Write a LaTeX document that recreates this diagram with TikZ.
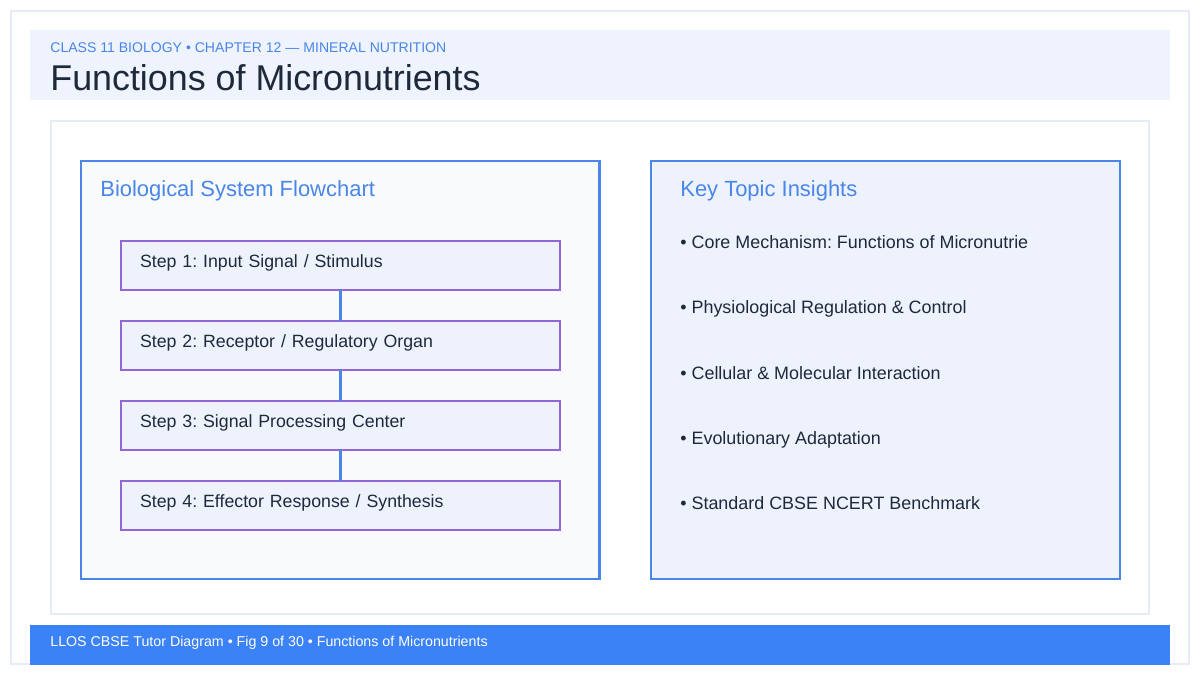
\documentclass[tikz,border=0pt]{standalone}
\usepackage{fontspec}
\setmainfont{Liberation Sans}
\usetikzlibrary{positioning}
\frenchspacing

\definecolor{accent}{HTML}{4A86E8}
\definecolor{footbg}{HTML}{3B82F6}
\definecolor{ink}{HTML}{1E293B}
\definecolor{stepline}{HTML}{9066D8}
\definecolor{stepbg}{HTML}{EEF2FD}
\definecolor{headbg}{HTML}{EEF3FD}
\definecolor{leftbg}{HTML}{F8FAFC}
\definecolor{frameline}{HTML}{E6ECF7}

\tikzset{
  stepbox/.style={rectangle, draw=stepline, line width=1.1pt, fill=stepbg, outer sep=0pt,
    minimum width=8.78cm, minimum height=0.98cm, inner xsep=0.38cm, text width=8.02cm,
    align=left, text height=0.26cm, text depth=0.17cm, text=ink, font=\fontsize{10.1}{12}\selectfont},
  link/.style={draw=accent, line width=1.7pt},
  heading/.style={anchor=base west, inner sep=0pt, text=accent, font=\fontsize{12.5}{15}\selectfont},
  point/.style={anchor=base west, inner sep=0pt, text=ink, font=\fontsize{10.2}{12}\selectfont}
  }

\begin{document}
\begin{tikzpicture}[x=0.02cm, y=-0.02cm]
	% Frame
	\useasboundingbox (0,0) rectangle (1200,675);
	\fill[white] (0,0) rectangle (1200,675);
	\draw[frameline, line width=1.1pt, fill=white] (11,11) rectangle (1189,664);
	\fill[headbg] (30,30) rectangle (1170,100);
	\draw[frameline, line width=1.1pt, fill=white] (51,121) rectangle (1149,614);
	\fill[footbg] (30,625) rectangle (1170,665);

	% Header
	\node[anchor=base west, inner sep=0pt, text=accent, font=\fontsize{8}{10}\selectfont] (chapter) at (50,53) {CLASS 11 BIOLOGY • CHAPTER 12 — MINERAL NUTRITION};
	\node[anchor=base west, inner sep=0pt, text=ink, font=\fontsize{20.4}{24}\selectfont] (title) at (50,91) {Functions of Micronutrients};

	% Panels
	\draw[accent, line width=1.7pt, fill=leftbg] (81,161) rectangle (599,579);
	\draw[accent, line width=1.1pt, fill=stepbg] (651,161) rectangle (1120,579);
	\node[heading] (flowtitle) at (100,197) {Biological System Flowchart};
	\node[heading] (insighttitle) at (680,197) {Key Topic Insights};

	% Nodes
	\node[stepbox] (input) at (340.5,265.5) {Step 1: Input Signal / Stimulus};
	\node[stepbox, below=0.62cm of input] (receptor) {Step 2: Receptor / Regulatory Organ};
	\node[stepbox, below=0.62cm of receptor] (center) {Step 3: Signal Processing Center};
	\node[stepbox, below=0.62cm of center] (effector) {Step 4: Effector Response / Synthesis};

	% Links
	\draw[link] (input) -- (receptor);
	\draw[link] (receptor) -- (center);
	\draw[link] (center) -- (effector);

	% Insights
	\node[point] (core) at (680,249) {• Core Mechanism: Functions of Micronutrie};
	\node[point] (regulation) at (680,314) {• Physiological Regulation \& Control};
	\node[point] (cellular) at (680,379) {• Cellular \& Molecular Interaction};
	\node[point] (evolution) at (680,444) {• Evolutionary Adaptation};
	\node[point] (benchmark) at (680,509) {• Standard CBSE NCERT Benchmark};

	% Footer
	\node[anchor=base west, inner sep=0pt, text=white, font=\fontsize{8.1}{10}\selectfont] (footer) at (50,646) {LLOS CBSE Tutor Diagram • Fig 9 of 30 • Functions of Micronutrients};
\end{tikzpicture}
\end{document}
